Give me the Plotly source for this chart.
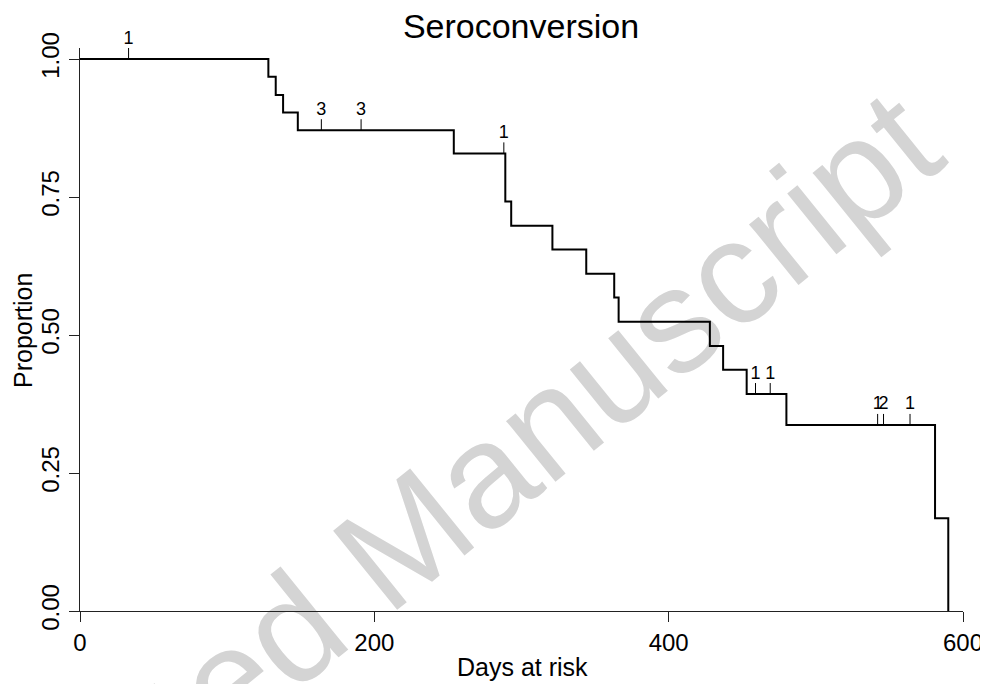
import math
import plotly.graph_objects as go

# ---------------- data ----------------
step_times = [0, 128, 133, 138, 148, 254, 289, 293, 321, 344, 363, 366, 428, 437, 453, 480, 581, 590]
step_surv = [1.000, 0.968, 0.935, 0.903, 0.871, 0.829, 0.742, 0.698, 0.655, 0.611,
             0.568, 0.524, 0.480, 0.437, 0.393, 0.337, 0.168, 0.000]
censor_times = [33, 164, 191, 288, 459, 469, 542, 546, 564]
censor_counts = ["1", "3", "3", "1", "1", "1", "1", "2", "1"]

x_ticks = [0, 200, 400, 600]
y_ticks = [0.0, 0.25, 0.5, 0.75, 1.0]
y_tick_text = ["0.00", "0.25", "0.50", "0.75", "1.00"]

# ---------------- layout geometry ----------------
W, H = 988, 684
OFF = 8  # page body margin
ML, MT = 80 - OFF, 48 - OFF
PW, PH = 883, 563
MR = W - ML - PW
MB = H - MT - PH
FONT = "Liberation Sans, Arial, sans-serif"
TICK_H = 0.02


def px_to_paper(sx, sy):
    """screen pixel -> paper coordinates"""
    fx, fy = sx - OFF, sy - OFF
    return (fx - ML) / PW, (MT + PH - fy) / PH


def level_at(t):
    val = step_surv[0]
    for st, sv in zip(step_times, step_surv):
        if st <= t:
            val = sv
    return val


censor_surv = [level_at(t) for t in censor_times]

tick_x, tick_y = [], []
for t, s in zip(censor_times, censor_surv):
    tick_x += [t, t, None]
    tick_y += [s, s + TICK_H, None]

fig = go.Figure()

fig.add_trace(go.Scatter(
    x=step_times, y=step_surv, mode="lines", line_shape="hv",
    line=dict(color="black", width=2), showlegend=False, hoverinfo="skip"))

fig.add_trace(go.Scatter(
    x=tick_x, y=tick_y, mode="lines",
    line=dict(color="black", width=1), showlegend=False, hoverinfo="skip"))

fig.add_trace(go.Scatter(
    x=censor_times, y=[s + TICK_H for s in censor_surv], mode="text",
    text=censor_counts, textposition="top center",
    textfont=dict(family=FONT, size=18, color="black"),
    cliponaxis=False, showlegend=False, hoverinfo="skip"))

# watermark (drawn below the data)
cx, cy, ang, half = 372, 546, 39.0, 500
dx, dy = half * math.cos(math.radians(ang)), half * math.sin(math.radians(ang))
ax0, ay0 = px_to_paper(cx - dx, cy + dy)
ax1, ay1 = px_to_paper(cx + dx, cy - dy)
fig.add_shape(type="line", xref="paper", yref="paper",
              x0=ax0, y0=ay0, x1=ax1, y1=ay1, layer="below",
              line=dict(width=0, color="rgba(0,0,0,0)"),
              label=dict(text="Accepted Manuscript", textposition="middle",
                         yanchor="middle",
                         font=dict(family=FONT, size=148, color="#d4d4d4")))

# axis titles
tx, ty = px_to_paper(522, 667)
fig.add_annotation(text="Days at risk", xref="paper", yref="paper", x=tx, y=ty,
                   showarrow=False, xanchor="center", yanchor="middle",
                   font=dict(family=FONT, size=25, color="black"))
tx, ty = px_to_paper(23, 331)
fig.add_annotation(text="Proportion", xref="paper", yref="paper", x=tx, y=ty,
                   showarrow=False, xanchor="center", yanchor="middle", textangle=-90,
                   font=dict(family=FONT, size=25, color="black"))

fig.update_layout(
    width=W, height=H,
    margin=dict(l=ML, r=MR, t=MT, b=MB, pad=0),
    paper_bgcolor="white", plot_bgcolor="white",
    title=dict(text="Seroconversion", x=(521 - OFF) / W, y=1 - (26 - OFF) / H,
               xanchor="center", yanchor="middle", xref="container", yref="container",
               font=dict(family=FONT, size=34, color="black")),
    xaxis=dict(range=[0, 600], tickvals=x_ticks, ticktext=[str(v) for v in x_ticks],
               showline=True, linecolor="#222", linewidth=1,
               ticks="outside", ticklen=10, tickcolor="#222", tickwidth=1,
               showgrid=False, zeroline=False,
               tickfont=dict(family=FONT, size=24, color="black")),
    yaxis=dict(range=[0, 1.02], tickvals=y_ticks, ticktext=y_tick_text,
               showline=True, linecolor="#222", linewidth=1,
               ticks="outside", ticklen=10, tickcolor="#222", tickwidth=1,
               showgrid=False, zeroline=False, tickangle=-90,
               tickfont=dict(family=FONT, size=24, color="black")),
)

fig.write_html("out.html")
